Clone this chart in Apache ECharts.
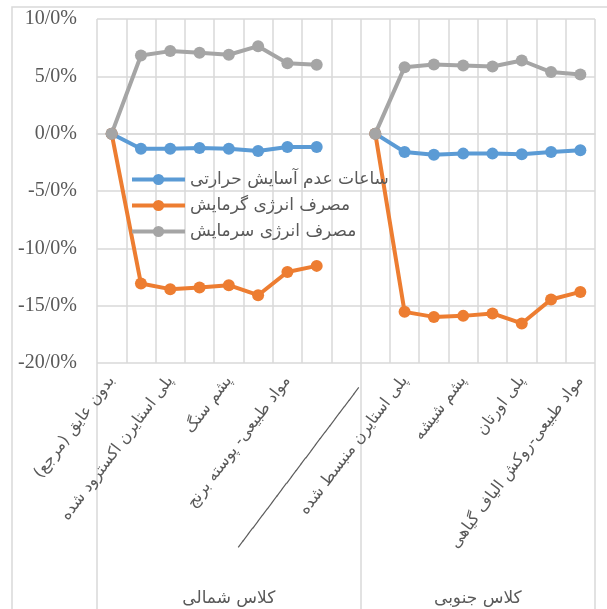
<!DOCTYPE html>
<html>
<head>
<meta charset="utf-8">
<script src="https://cdn.jsdelivr.net/npm/echarts@6/dist/echarts.min.js"></script>
<style>
html,body{margin:0;padding:0;background:#fff;}
#chart{width:607px;height:609px;}
</style>
</head>
<body>
<div id="chart"></div>
<script>
// ---- DATA ----
const categories = [
  'بدون عایق (مرجع)', '', 'پلی استایرن اکسترود شده', '', 'پشم سنگ', '', 'مواد طبیعی- پوسته برنج', '',
  '_________________________', '',
  'پلی استایرن منبسط شده', '', 'پشم شیشه', '', 'پلی اورتان', '', 'مواد طبیعی-روکش الیاف گیاهی'
];
const groupNames = ['کلاس شمالی', 'کلاس جنوبی'];
const groupSizes = [9, 8];
const seriesNames = ['ساعات عدم آسایش حرارتی', 'مصرف انرژی گرمایش', 'مصرف انرژی سرمایش'];
const discomfortHours = [0, -1.31, -1.31, -1.25, -1.31, -1.52, -1.17, -1.17, null, 0, -1.6, -1.83, -1.74, -1.74, -1.8, -1.6, -1.45];
const heatingEnergy = [0, -13.07, -13.56, -13.41, -13.21, -14.09, -12.06, -11.53, null, 0, -15.54, -15.98, -15.89, -15.68, -16.55, -14.46, -13.8];
const coolingEnergy = [0, 6.82, 7.2, 7.06, 6.88, 7.63, 6.15, 6.01, null, 0, 5.8, 6.04, 5.95, 5.86, 6.38, 5.37, 5.17];
const yTickValues = [-20, -15, -10, -5, 0, 5, 10];
const yTickLabels = ['-20/0%', '-15/0%', '-10/0%', '-5/0%', '0/0%', '5/0%', '10/0%'];

// ---- derived group boundaries / centers ----
const groupBounds = [0];
groupSizes.forEach(s => groupBounds.push(groupBounds[groupBounds.length - 1] + s));
const groupCenters = groupSizes.map((s, i) => groupBounds[i] + s / 2);

const colors = ['#5B9BD5', '#ED7D31', '#A5A5A5'];
const gridColor = '#d9d9d9';
const textColor = '#595959';

const chart = echarts.init(document.getElementById('chart'), null, {renderer: 'canvas'});

function lineSeries(name, data, color) {
  return {
    name: name,
    type: 'line',
    data: data,
    connectNulls: false,
    symbol: 'circle',
    symbolSize: 12,
    showSymbol: true,
    lineStyle: {color: color, width: 4},
    itemStyle: {color: color, borderWidth: 0},
    emphasis: {disabled: true},
    animation: false
  };
}

chart.setOption({
  backgroundColor: '#fff',
  animation: false,
  graphic: [{
    type: 'rect',
    shape: {x: 12, y: 7, width: 700, height: 700},
    style: {fill: 'none', stroke: gridColor, lineWidth: 1.5},
    z: -10,
    silent: true
  }],
  grid: {left: 97, right: 12, top: 19, bottom: 246, containLabel: false},
  legend: {
    orient: 'vertical',
    left: 130,
    top: 171,
    padding: 0,
    itemWidth: 53,
    itemHeight: 14,
    itemGap: 9,
    data: seriesNames,
    lineStyle: {width: 4},
    textStyle: {color: textColor, fontSize: 17, fontFamily: 'DejaVu Sans'},
    backgroundColor: 'transparent'
  },
  xAxis: [{
    type: 'category',
    data: categories,
    boundaryGap: true,
    axisLine: {show: true, lineStyle: {color: gridColor, width: 1.5}},
    axisTick: {show: false},
    splitLine: {show: true, interval: 0, lineStyle: {color: gridColor, width: 1.5}},
    axisLabel: {
      interval: 0,
      rotate: 53,
      margin: 15,
      color: textColor,
      fontSize: 16,
      fontFamily: 'DejaVu Sans',
      formatter: function (v) {
        return v.charAt(0) === '_' ? '{ln|' + v + '}' : v;
      },
      rich: {
        ln: {padding: [17, 0, 0, 0], color: textColor, fontSize: 16, fontFamily: 'DejaVu Sans'}
      }
    }
  }, {
    type: 'value',
    position: 'bottom',
    min: 0,
    max: groupBounds[groupBounds.length - 1],
    axisLine: {show: false},
    splitLine: {show: false},
    axisTick: {
      show: true,
      customValues: groupBounds,
      length: 250,
      lineStyle: {color: gridColor, width: 1.5}
    },
    axisLabel: {
      show: true,
      customValues: groupCenters,
      margin: 227,
      color: textColor,
      fontSize: 17,
      fontFamily: 'DejaVu Sans',
      formatter: function (v) {
        const i = groupCenters.indexOf(v);
        return i >= 0 ? groupNames[i] : '';
      }
    }
  }],
  yAxis: {
    type: 'value',
    min: -20,
    max: 10,
    interval: 5,
    axisLine: {show: false},
    axisTick: {show: false},
    splitLine: {show: true, lineStyle: {color: gridColor, width: 1.5}},
    axisLabel: {
      margin: 20,
      color: textColor,
      fontSize: 20,
      fontFamily: 'Liberation Serif',
      formatter: function (v) {
        const i = yTickValues.indexOf(v);
        return i >= 0 ? yTickLabels[i] : '';
      }
    }
  },
  series: [
    lineSeries(seriesNames[0], discomfortHours, colors[0]),
    lineSeries(seriesNames[1], heatingEnergy, colors[1]),
    lineSeries(seriesNames[2], coolingEnergy, colors[2])
  ]
});
</script>
</body>
</html>
